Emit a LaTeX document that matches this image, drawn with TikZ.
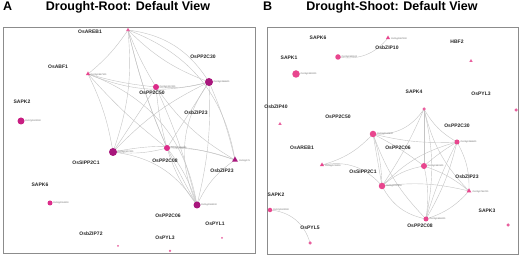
\documentclass[tikz,border=0pt]{standalone}
\usepackage{fontspec}
\setmainfont{Liberation Sans}
\usetikzlibrary{shapes.geometric,backgrounds}
\definecolor{dkm}{HTML}{A8167C}
\definecolor{mdm}{HTML}{C81E82}
\definecolor{pkm}{HTML}{DC2C8A}
\definecolor{lpk}{HTML}{E8468E}
\definecolor{tpk}{HTML}{E8609E}
\definecolor{edgec}{HTML}{C4C4C4}
\definecolor{framec}{HTML}{8C8C8C}
\tikzset{
  gn/.style={circle,fill=#1,draw=none,inner sep=0pt},
  tn/.style={regular polygon,regular polygon sides=3,fill=#1,draw=none,inner sep=0pt},
  lab/.style={font=\fontsize{5}{5}\selectfont\bfseries,text=black!85,inner sep=0pt},
  gid/.style={font=\fontsize{2.3}{2.3}\selectfont,text=black!60,inner sep=0pt,anchor=west},
  edge/.style={draw=edgec,line width=0.4pt},
  frame/.style={draw=framec,line width=0.8pt},
  ttl/.style={font=\fontsize{12.5}{12.5}\selectfont\bfseries,inner sep=0pt,anchor=base},
}
\begin{document}
\begin{tikzpicture}[x=1pt,y=-1pt]
\useasboundingbox (0,0) rectangle (520,256);
% titles
\node[ttl,anchor=base west] (tA) at (3,11) {A};
\node[ttl] (tAt) at (128,11) {Drought-Root: Default View};
\node[ttl,anchor=base west] (tB) at (263,11) {B};
\node[ttl] (tBt) at (392,11) {Drought-Shoot: Default View};
% frames
\draw[frame] (3,27) rectangle (255,253);
\draw[frame] (267,27) rectangle (518,254);

% ===== Panel A nodes =====
\node[tn=tpk,minimum size=4.5pt] (a1) at (128,30) {};
\node[tn=lpk,minimum size=5pt] (a2) at (88,74) {};
\node[gid] at (90.5,74.5) {Os02g0867300};
\node[gn=pkm,minimum size=6pt] (a3) at (156,87) {};
\node[gid] at (159.5,87) {Os03g0137400};
\node[gn=dkm,minimum size=8pt] (a4) at (209,82) {};
\node[gid] at (213.5,82) {Os03g0268600};
\node[gn=dkm,minimum size=8pt] (a5) at (113,152) {};
\node[gid] at (117.5,152) {Os05g0537400};
\node[gn=pkm,minimum size=6pt] (a6) at (167,148) {};
\node[gid] at (170.5,148) {Os01g0656200};
\node[tn=dkm,minimum size=7pt] (a7) at (235,160) {};
\node[gid] at (239,160.5) {Os02g076};
\node[gn=dkm,minimum size=7pt] (a8) at (197,205) {};
\node[gid] at (201,205) {Os01g0583100};
\node[gn=mdm,minimum size=7pt] (a9) at (21,121) {};
\node[gid] at (25,121) {Os07g0622000};
\node[gn=pkm,minimum size=5pt] (a10) at (50,203) {};
\node[gid] at (53,203) {Os02g0551100};
\node[gn=tpk,minimum size=2pt] (a11) at (222,238) {};
\node[gn=tpk,minimum size=2pt] (a12) at (118,246) {};
\node[gn=tpk,minimum size=2.5pt] (a13) at (170,251) {};
% Panel A labels
\node[lab] (lA1) at (90,32) {OsAREB1};
\node[lab] (lA2) at (203,57) {OsPP2C30};
\node[lab] (lA3) at (58,67) {OsABF1};
\node[lab] (lA4) at (152,93) {OsPP2C50};
\node[lab] (lA5) at (22,102) {SAPK2};
\node[lab] (lA6) at (196,113) {OsbZIP23};
\node[lab] (lA7) at (86,163) {OsSIPP2C1};
\node[lab] (lA8) at (165,161) {OsPP2C08};
\node[lab] (lA9) at (222,171) {OsbZIP23};
\node[lab] (lA10) at (40,185) {SAPK6};
\node[lab] (lA11) at (168,216) {OsPP2C06};
\node[lab] (lA12) at (215,224) {OsPYL1};
\node[lab] (lA13) at (91,234) {OsbZIP72};
\node[lab] (lA14) at (165,238) {OsPYL3};

% ===== Panel B nodes =====
\node[tn=lpk,minimum size=5pt] (b9) at (388,38) {};
\node[gid] at (391,38.5) {Os01g0867300};
\node[gn=lpk,minimum size=5.5pt] (b10) at (338,57) {};
\node[gid] at (341.5,57) {Os02g0551100};
\node[tn=tpk,minimum size=4pt] (b11) at (471,61) {};
\node[gn=lpk,minimum size=7.5pt] (b12) at (296,74) {};
\node[gid] at (300.5,74) {Os03g0390200};
\node[gn=tpk,minimum size=3.5pt] (b1) at (424,109) {};
\node[gn=tpk,minimum size=3.5pt] (b13) at (516,110) {};
\node[tn=tpk,minimum size=4pt] (b14) at (280,124) {};
\node[gn=lpk,minimum size=6.5pt] (b2) at (373,134) {};
\node[gid] at (377,134) {Os03g0137400};
\node[gn=lpk,minimum size=5pt] (b3) at (457,142) {};
\node[gid] at (460.5,142) {Os03g0268600};
\node[tn=lpk,minimum size=5pt] (b4) at (322,165) {};
\node[gid] at (325,165.5) {Os06g0211200};
\node[gn=lpk,minimum size=6pt] (b5) at (424,166) {};
\node[gid] at (427.5,166) {Os01g0583100};
\node[gn=lpk,minimum size=6.5pt] (b6) at (382,186) {};
\node[gid] at (386,186) {Os05g0537400};
\node[tn=lpk,minimum size=5.5pt] (b7) at (469,191) {};
\node[gid] at (472.5,191.5) {Os02g0766700};
\node[gn=lpk,minimum size=5pt] (b8) at (426,219) {};
\node[gid] at (429.5,219) {Os01g0656200};
\node[gn=lpk,minimum size=4.5pt] (b15) at (270,210) {};
\node[gid] at (273,210) {Os07g0622000};
\node[gn=tpk,minimum size=3.5pt] (b16) at (508,225) {};
\node[gn=tpk,minimum size=3.5pt] (b17) at (310,243) {};
% Panel B labels
\node[lab] (lB1) at (318,38) {SAPK6};
\node[lab] (lB2) at (387,48) {OsbZIP10};
\node[lab] (lB3) at (457,42) {HBF2};
\node[lab] (lB4) at (289,58) {SAPK1};
\node[lab] (lB5) at (414,92) {SAPK4};
\node[lab] (lB6) at (481,94) {OsPYL3};
\node[lab] (lB7) at (276,107) {OsbZIP40};
\node[lab] (lB8) at (338,117) {OsPP2C50};
\node[lab] (lB9) at (457,126) {OsPP2C30};
\node[lab] (lB10) at (302,148) {OsAREB1};
\node[lab] (lB11) at (398,148) {OsPP2C06};
\node[lab] (lB12) at (363,172) {OsSIPP2C1};
\node[lab] (lB13) at (467,177) {OsbZIP23};
\node[lab] (lB14) at (276,195) {SAPK2};
\node[lab] (lB15) at (487,211) {SAPK3};
\node[lab] (lB16) at (420,226) {OsPP2C08};
\node[lab] (lB17) at (310,228) {OsPYL5};

% ===== Edges =====
\begin{pgfonlayer}{background}
% Panel A
\draw[edge] (a1.center) to[bend left=8] (a2.center);
\draw[edge] (a1.center) to[bend right=5] (a3.center);
\draw[edge] (a1.center) to[bend left=25] (a4.center);
\draw[edge] (a1.center) to[bend right=12] (a4.center);
\draw[edge] (a1.center) to[bend left=12] (a5.center);
\draw[edge] (a1.center) to[bend right=5] (a6.center);
\draw[edge] (a1.center) to[bend left=30] (a7.center);
\draw[edge] (a1.center) to[bend right=8] (a8.center);
\draw[edge] (a2.center) to[bend right=5] (a3.center);
\draw[edge] (a2.center) to[bend right=18] (a4.center);
\draw[edge] (a2.center) to[bend left=8] (a5.center);
\draw[edge] (a2.center) to[bend right=5] (a6.center);
\draw[edge] (a2.center) to[bend left=30] (a8.center);
\draw[edge] (a3.center) to[bend right=10] (a4.center);
\draw[edge] (a3.center) to (a5.center);
\draw[edge] (a3.center) to[bend right=5] (a6.center);
\draw[edge] (a3.center) to[bend left=5] (a8.center);
\draw[edge] (a3.center) to[bend right=12] (a7.center);
\draw[edge] (a4.center) to[bend right=10] (a5.center);
\draw[edge] (a4.center) to (a6.center);
\draw[edge] (a4.center) to[bend left=5] (a7.center);
\draw[edge] (a4.center) to[bend right=30] (a8.center);
\draw[edge] (a4.center) to[bend left=8] (a8.center);
\draw[edge] (a5.center) to[bend right=10] (a6.center);
\draw[edge] (a5.center) to[bend left=15] (a7.center);
\draw[edge] (a5.center) to[bend left=25] (a8.center);
\draw[edge] (a6.center) to[bend left=10] (a7.center);
\draw[edge] (a6.center) to[bend left=10] (a8.center);
\draw[edge] (a6.center) to[bend right=10] (a8.center);
\draw[edge] (a7.center) to[bend right=15] (a8.center);
% Panel B
\draw[edge] (b10.center) to[bend right=30] (b9.center);
\draw[edge] (b15.center) to[bend left=35] (b17.center);
\draw[edge] (b1.center) to[bend left=30] (b2.center);
\draw[edge] (b1.center) to[bend right=15] (b3.center);
\draw[edge] (b1.center) to (b5.center);
\draw[edge] (b1.center) to[bend left=5] (b6.center);
\draw[edge] (b1.center) to[bend left=12] (b8.center);
\draw[edge] (b1.center) to[bend right=15] (b7.center);
\draw[edge] (b2.center) to[bend left=15] (b4.center);
\draw[edge] (b2.center) to[bend right=8] (b3.center);
\draw[edge] (b2.center) to[bend left=5] (b5.center);
\draw[edge] (b2.center) to[bend left=8] (b6.center);
\draw[edge] (b2.center) to[bend right=12] (b8.center);
\draw[edge] (b2.center) to (b6.center);
\draw[edge] (b4.center) to[bend left=30] (b6.center);
\draw[edge] (b3.center) to[bend right=5] (b5.center);
\draw[edge] (b3.center) to[bend right=15] (b6.center);
\draw[edge] (b3.center) to[bend left=15] (b7.center);
\draw[edge] (b3.center) to[bend left=8] (b8.center);
\draw[edge] (b3.center) to[bend right=5] (b8.center);
\draw[edge] (b5.center) to[bend right=15] (b6.center);
\draw[edge] (b5.center) to[bend left=10] (b8.center);
\draw[edge] (b5.center) to[bend left=10] (b7.center);
\draw[edge] (b6.center) to[bend left=10] (b7.center);
\draw[edge] (b6.center) to[bend right=25] (b8.center);
\draw[edge] (b7.center) to[bend left=15] (b8.center);
\end{pgfonlayer}
\end{tikzpicture}
\end{document}
